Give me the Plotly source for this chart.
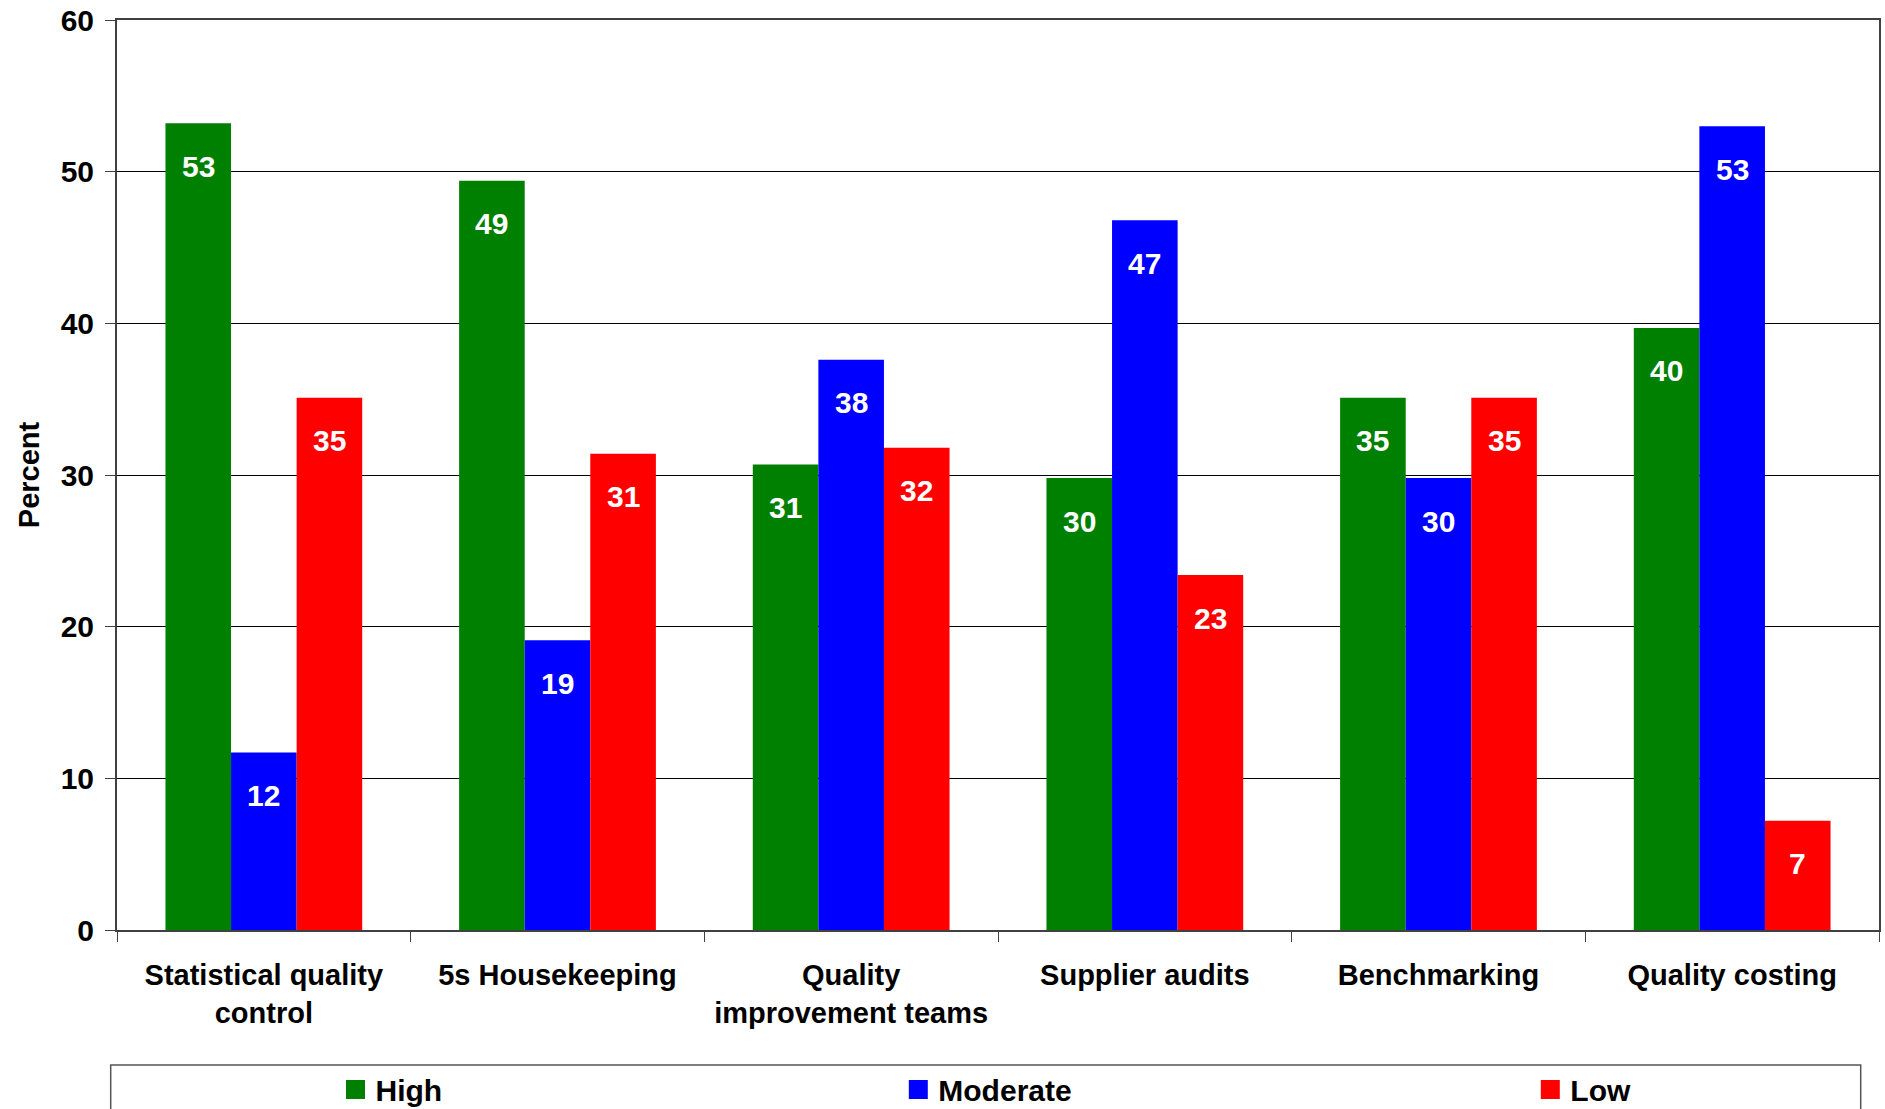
import plotly.graph_objects as go

categories = ["Statistical quality<br>control", "5s Housekeeping", "Quality<br>improvement teams",
              "Supplier audits", "Benchmarking", "Quality costing"]
series_names = ["High", "Moderate", "Low"]
high = [53.2, 49.4, 30.7, 29.8, 35.1, 39.7]
moderate = [11.7, 19.1, 37.6, 46.8, 29.8, 53.0]
low = [35.1, 31.4, 31.8, 23.4, 35.1, 7.2]
y_ticks = [0, 10, 20, 30, 40, 50, 60]

colors = ["#008000", "#0000FF", "#FF0000"]
FONT = "Liberation Sans, Arial, sans-serif"

W, H = 1885, 1109
ML, MR, MT, MB = 117, 6, 20, 179
PW = W - ML - MR
PH = H - MT - MB
BARGAP = 0.33
bar_w = (1 - BARGAP) / 3

fig = go.Figure()
all_series = [high, moderate, low]
for name, vals, col in zip(series_names, all_series, colors):
    fig.add_trace(go.Bar(x=categories, y=vals, name=name, marker=dict(color=col, line=dict(width=0)),
                         showlegend=False, hoverinfo="x+y"))

# legend entries (three separate legends spread across the box)
legend_centers = [355.5, 918.3, 1550.3]
legend_keys = ["legend", "legend2", "legend3"]
for name, col, key in zip(series_names, colors, legend_keys):
    fig.add_trace(go.Scatter(x=[None], y=[None], mode="markers", name=name, legend=key,
                             marker=dict(symbol="square", size=16, color=col,
                                         line=dict(color=col, width=3)),
                             showlegend=True, hoverinfo="skip"))

annotations = []
for k, vals in enumerate(all_series):
    off = (k - 1) * bar_w
    for j, v in enumerate(vals):
        annotations.append(dict(x=j + off, y=v, xref="x", yref="y", text=str(round(v)),
                                showarrow=False, yshift=-43, yanchor="middle",
                                font=dict(family=FONT, size=30, color="white", weight="bold")))

layout_legends = {}
for key, cx in zip(legend_keys, legend_centers):
    layout_legends[key] = dict(x=(cx - 20) / W, y=1 - 1089.5 / H, xref="container", yref="container",
                               xanchor="left", yanchor="middle",
                               orientation="h", bgcolor="rgba(0,0,0,0)", borderwidth=0,
                               font=dict(family=FONT, size=30, color="black", weight="bold"))

box_top = (MT + PH - 1065) / PH
fig.update_layout(
    width=W, height=H,
    margin=dict(l=ML, r=MR, t=MT, b=MB, pad=0, autoexpand=False),
    paper_bgcolor="white", plot_bgcolor="white",
    barmode="group", bargap=BARGAP, bargroupgap=0,
    font=dict(family=FONT, size=30, color="black"),
    annotations=annotations,
    shapes=[dict(type="rect", xref="paper", yref="paper",
                 x0=(110.7 - ML) / PW, x1=(1860.7 - ML) / PW, y0=box_top, y1=-0.3,
                 line=dict(color="#555555", width=1.5), fillcolor="rgba(0,0,0,0)", layer="above")],
    xaxis=dict(type="category", tickson="boundaries", ticks="outside", ticklen=10, tickwidth=1,
               tickcolor="#404040", showline=True, linecolor="#404040", linewidth=2, mirror=True,
               showgrid=False, ticklabelstandoff=18,
               tickfont=dict(family=FONT, size=29, color="black", weight="bold"),
               fixedrange=True),
    yaxis=dict(range=[0, 60], tickvals=y_ticks, ticks="outside", ticklen=10, tickwidth=1,
               tickcolor="#404040", showline=True, linecolor="#404040", linewidth=2, mirror=True,
               showgrid=True, gridcolor="black", gridwidth=1, zeroline=False,
               ticklabelstandoff=5,
               tickfont=dict(family=FONT, size=30, color="black", weight="bold"),
               title=dict(text="Percent", standoff=12,
                          font=dict(family=FONT, size=29, color="black", weight="bold")),
               fixedrange=True),
    **layout_legends,
)

fig.write_html("out.html")
